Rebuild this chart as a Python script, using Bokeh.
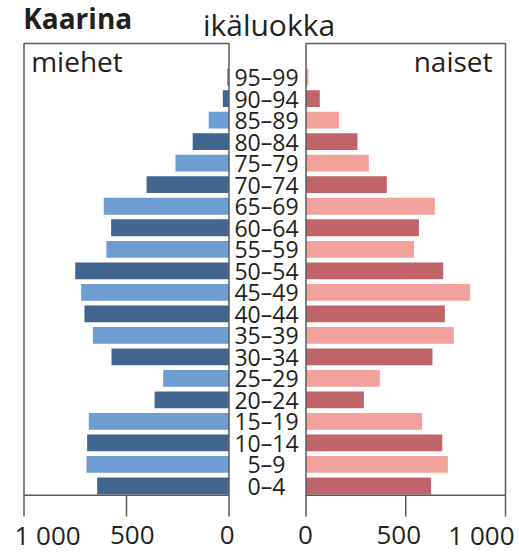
from bokeh.plotting import figure
from bokeh.models import Range1d, ColumnDataSource
from bokeh.core.properties import value
from bokeh.embed import file_html
from bokeh.resources import INLINE

# ---- data ----
ages = ["0–4", "5–9", "10–14", "15–19", "20–24", "25–29", "30–34", "35–39",
        "40–44", "45–49", "50–54", "55–59", "60–64", "65–69", "70–74",
        "75–79", "80–84", "85–89", "90–94", "95–99"]
men = [643, 695, 692, 684, 363, 321, 573, 664, 705, 721,
       750, 598, 575, 611, 402, 261, 177, 99, 30, 10]
women = [627, 711, 683, 582, 290, 370, 634, 741, 696, 823,
         688, 541, 566, 646, 405, 315, 258, 165, 69, 12]
tick_values = [1000, 500, 0]
tick_labels = ["1 000", "500", "0"]
title = "Kaarina"
center_title = "ikäluokka"
men_label = "miehet"
women_label = "naiset"

# ---- style / layout ----
FONT = "Open Sans"
TXT = "#231f20"
LINE = "#5a5a5a"
men_colors = ["#41658f", "#6e9dd2"]
women_colors = ["#c0646a", "#f2a19c"]

W, HGT = 519, 552
KM = 0.205      # px per unit, men panel
KF = 0.1995     # px per unit, women panel
M_LEFT_PX = 23.5    # pixel of men 1000
F_ZERO_PX = 305.5   # pixel of women 0
PY = 21.52      # px per age class
Y0_PX = 485.5   # pixel of the 0-4 class centre
BOX_TOP_PX, BOX_BOT_PX, TICK_END_PX = 43, 494.7, 516

m_start = -1000 - M_LEFT_PX / KM
f_start = -F_ZERO_PX / KF


def yd(px):
    return (Y0_PX - px) / PY


def xm(px):
    return m_start + px / KM


def txt(x, y, s, size, align="left", bold=False, **kw):
    p.text(x=[x], y=[y], text=[s], text_align=align, text_baseline="middle",
           text_font=value(FONT), text_font_style="bold" if bold else "normal",
           text_font_size=f"{size}px", text_color=TXT, **kw)


p = figure(width=W, height=HGT, output_backend="svg", toolbar_location=None,
           x_range=Range1d(m_start, m_start + W / KM),
           y_range=Range1d(yd(HGT), yd(0)),
           x_axis_location=None, y_axis_location=None,
           min_border=0, min_border_left=0, min_border_right=0,
           min_border_top=0, min_border_bottom=0)
p.extra_x_ranges = {"fem": Range1d(f_start, f_start + W / KF)}
p.outline_line_color = None
p.xgrid.visible = False
p.ygrid.visible = False
p.background_fill_color = "white"
p.border_fill_color = "white"

idx = list(range(len(ages)))
src = ColumnDataSource(dict(
    y=idx,
    age=ages,
    men_neg=[-v for v in men],
    zero=[0] * len(men),
    women=women,
    mc=[men_colors[i % 2] for i in idx],
    fc=[women_colors[i % 2] for i in idx],
))

p.hbar(y="y", left="men_neg", right="zero", height=0.78, fill_color="mc",
       line_color=None, source=src)
p.hbar(y="y", left="zero", right="women", height=0.78, fill_color="fc",
       line_color=None, source=src, x_range_name="fem")

# panel boxes
p.quad(left=[-1000], right=[0], bottom=[yd(BOX_BOT_PX)], top=[yd(BOX_TOP_PX)],
       fill_color=None, line_color=LINE, line_width=1.5)
p.quad(left=[0], right=[1000], bottom=[yd(BOX_BOT_PX)], top=[yd(BOX_TOP_PX)],
       fill_color=None, line_color=LINE, line_width=1.5, x_range_name="fem")

# ticks
p.segment(x0=[-t for t in tick_values], x1=[-t for t in tick_values],
          y0=yd(BOX_BOT_PX), y1=yd(TICK_END_PX), line_color=LINE, line_width=1.5)
p.segment(x0=tick_values, x1=tick_values,
          y0=yd(BOX_BOT_PX), y1=yd(TICK_END_PX), line_color=LINE, line_width=1.5,
          x_range_name="fem")

# tick labels
label_y = yd(534)
m_offsets = [23.5, 5.7, -1.8]
for t, lab, off in zip(tick_values, tick_labels, m_offsets):
    txt(-t + off / KM, label_y, lab, 26, "center")
f_offsets = [9, -7, -0.5]
f_aligns = ["right", "center", "center"]
for t, lab, off, al in zip(tick_values, tick_labels, f_offsets, f_aligns):
    txt(t + off / KF, label_y, lab, 26, al, x_range_name="fem")

# age labels
p.text(x=xm(266), y="y", text="age", source=src, text_align="center",
       text_baseline="middle", text_font=value(FONT), text_font_size="23px",
       text_color=TXT)

# titles
txt(xm(22.7), yd(17.6), title, 28, "left", bold=True)
txt(xm(268.5), yd(23.6), center_title, 30, "center")
txt(xm(30.7), yd(60.8), men_label, 28, "left")
txt(xm(492), yd(60.8), women_label, 28, "right")

open("out.html", "w").write(file_html(p, INLINE))
